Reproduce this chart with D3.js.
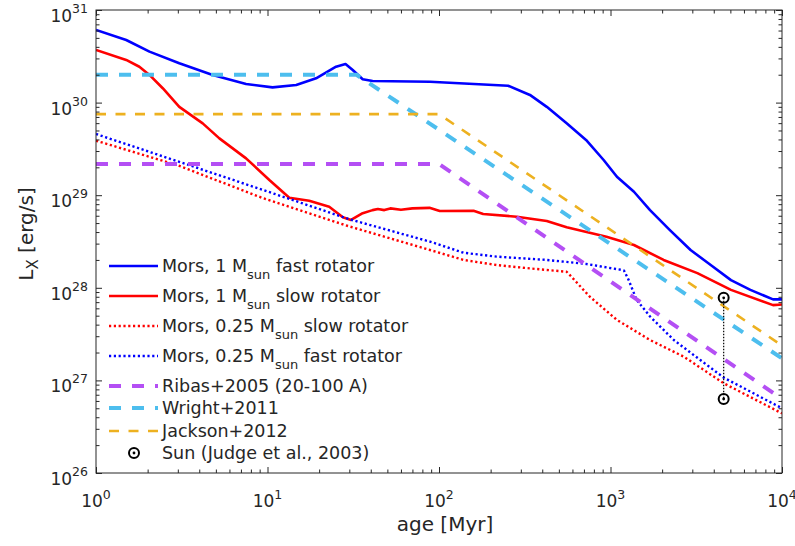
<!DOCTYPE html>
<html>
<head>
<meta charset="utf-8">
<script src="https://cdn.jsdelivr.net/npm/d3@7"></script>
<style>
  body { margin: 0; background: #fff; }
  svg { font-family: 'DejaVu Sans', Verdana, sans-serif; }
</style>
</head>
<body>
<svg></svg>
<script>
// Mors, 1 Msun fast rotator
let ageFast1 = [1, 1.5, 2.05, 3.06, 4.79, 7.5, 10.7, 14.7, 19.2, 25.1, 28.5, 31.4, 35.9, 41, 88.6, 253, 339, 425, 555, 720, 912, 1090, 1370, 1700, 2220, 2930, 3840, 5040, 6540, 8870, 10000]
let lxFast1 = [6.1e30, 4.74e30, 3.55e30, 2.66e30, 1.99e30, 1.59e30, 1.46e30, 1.55e30, 1.83e30, 2.44e30, 2.61e30, 2.25e30, 1.79e30, 1.71e30, 1.68e30, 1.52e30, 1.21e30, 9.0e29, 5.97e29, 3.95e29, 2.4e29, 1.58e29, 1.09e29, 6.9e28, 4.2e28, 2.56e28, 1.76e28, 1.21e28, 9.5e27, 7.5e27, 7.5e27]

// Mors, 1 Msun slow rotator
let ageSlow1 = [1, 1.5, 1.79, 2.05, 2.45, 3.06, 4.19, 5.24, 7.5, 10.25, 13.4, 17.5, 22.9, 27.5, 30.7, 35.9, 41, 44, 48, 52, 60, 70, 88, 101, 159, 181, 284, 425, 555, 947, 1370, 2040, 3210, 5040, 8870, 10000]
let lxSlow1 = [3.7e30, 2.89e30, 2.44e30, 1.99e30, 1.43e30, 9.0e29, 5.97e29, 4.11e29, 2.5e29, 1.46e29, 9.4e28, 8.7e28, 7.5e28, 5.77e28, 5.4e28, 6.4e28, 6.9e28, 7.1e28, 6.9e28, 7.2e28, 6.95e28, 7.2e28, 7.3e28, 6.75e28, 6.8e28, 6.27e28, 5.86e28, 5.26e28, 4.5e28, 3.56e28, 2.9e28, 2.0e28, 1.44e28, 9.5e27, 6.5e27, 6.6e27]

// Mors, 0.25 Msun slow rotator
let ageSlow025 = [1, 3, 9.4, 30, 88.6, 139, 217, 339, 555, 580, 758, 1090, 1700, 2680, 4580, 10000]
let lxSlow025 = [3.88e29, 2.1e29, 9.3e28, 4.6e28, 2.56e28, 2.0e28, 1.76e28, 1.62e28, 1.49e28, 1.37e28, 8.0e27, 4.5e27, 2.73e27, 1.8e27, 9.3e26, 4.4e26]

// Mors, 0.25 Msun fast rotator
let ageFast025 = [1, 3, 9.4, 30, 88.6, 139, 217, 425, 720, 1160, 1200, 1277, 1420, 1700, 2340, 3340, 4580, 10000]
let lxFast025 = [4.58e29, 2.32e29, 1.14e29, 5.5e28, 3.15e28, 2.39e28, 2.17e28, 2.0e28, 1.81e28, 1.56e28, 1.53e28, 1.21e28, 7.4e27, 4.9e27, 2.73e27, 1.66e27, 1.07e27, 5.0e26]

// empirical relations
let ageRibas = [1, 100, 10000]
let lxRibas = [2.17e29, 2.17e29, 6.3e26]
let ageWright = [1, 33, 10000]
let lxWright = [2.0e30, 2.0e30, 1.73e27]
let ageJackson = [1, 100, 10000]
let lxJackson = [7.5e29, 7.5e29, 2.38e27]

// Sun (Judge et al., 2003)
let ageSun = [4570, 4570]
let lxSun = [7.8e27, 6.3e26]

let xTickExp = [0, 1, 2, 3, 4]
let yTickExp = [26, 27, 28, 29, 30, 31]

let legendLabels = [
    ['Mors, 1 M', 'sun', ' fast rotator'],
    ['Mors, 1 M', 'sun', ' slow rotator'],
    ['Mors, 0.25 M', 'sun', ' slow rotator'],
    ['Mors, 0.25 M', 'sun', ' fast rotator'],
    ['Ribas+2005 (20-100 A)', '', ''],
    ['Wright+2011', '', ''],
    ['Jackson+2012', '', ''],
    ['Sun (Judge et al., 2003)', '', '']
]

let width = 795, height = 546
let pLeft = 96, pRight = 782, pTop = 10, pBottom = 473
let ink = '#262626'

let svg = d3.select('svg').attr('width', width).attr('height', height)

let xScale = d3.scaleLog().domain([1, 1e4]).range([pLeft, pRight])
let yScale = d3.scaleLog().domain([1e26, 1e31]).range([pBottom, pTop])

let zip = (xs, ys) => xs.map((x, i) => [x, ys[i]])

let series = [
    { data: zip(ageFast1, lxFast1), color: '#0000ff', w: 2.6, dash: null },
    { data: zip(ageSlow1, lxSlow1), color: '#ff0000', w: 2.6, dash: null },
    { data: zip(ageSlow025, lxSlow025), color: '#ff0000', w: 2.4, dash: '2.2 2.6' },
    { data: zip(ageFast025, lxFast025), color: '#0000ff', w: 2.4, dash: '2.2 2.6' },
    { data: zip(ageRibas, lxRibas), color: '#b44ff4', w: 4, dash: '12 11' },
    { data: zip(ageWright, lxWright), color: '#4dbeee', w: 4, dash: '12 11' },
    { data: zip(ageJackson, lxJackson), color: '#edb120', w: 2.6, dash: '10 9.5' }
]

svg.append('clipPath').attr('id', 'plotclip')
    .append('rect')
    .attr('x', pLeft).attr('y', pTop)
    .attr('width', pRight - pLeft).attr('height', pBottom - pTop)

let plot = svg.append('g').attr('clip-path', 'url(#plotclip)')

let line = d3.line()
    .x((d) => xScale(d[0]))
    .y((d) => yScale(d[1]))

series.forEach((s) => {
    plot.append('path')
        .attr('d', line(s.data))
        .attr('fill', 'none')
        .attr('stroke', s.color)
        .attr('stroke-width', s.w)
        .attr('stroke-linejoin', 'round')
        .attr('stroke-dasharray', s.dash)
})

// Sun: vertical dotted connector and the two markers
let sunPts = zip(ageSun, lxSun)
plot.append('path')
    .attr('d', line(sunPts))
    .attr('fill', 'none')
    .attr('stroke', '#000')
    .attr('stroke-width', 1.2)
    .attr('stroke-dasharray', '1.5 1.5')

let drawSun = (g, cx, cy) => {
    g.append('circle').attr('cx', cx).attr('cy', cy).attr('r', 5)
        .attr('fill', 'none').attr('stroke', '#000').attr('stroke-width', 2)
    g.append('circle').attr('cx', cx).attr('cy', cy).attr('r', 1.4).attr('fill', '#000')
}
sunPts.forEach((d) => drawSun(plot, xScale(d[0]), yScale(d[1])))

// axes: inner ticks on all four sides
let minorOf = (exps) => {
    let out = []
    exps.slice(0, -1).forEach((e) => {
        for (let k = 2; k <= 9; k++) out.push(k * Math.pow(10, e))
    })
    return out
}
let xMajor = xTickExp.map((e) => Math.pow(10, e))
let yMajor = yTickExp.map((e) => Math.pow(10, e))
let xMinor = minorOf(xTickExp)
let yMinor = minorOf(yTickExp)

let addAxis = (axis, ticks, size, tx, ty) => {
    let g = svg.append('g')
        .attr('transform', 'translate(' + tx + ',' + ty + ')')
        .call(axis.tickValues(ticks).tickSize(-size).tickFormat(''))
    g.select('.domain').remove()
    g.selectAll('line').attr('stroke', ink).attr('stroke-width', 1)
}
;[[xMajor, 6], [xMinor, 3.5]].forEach(([t, s]) => {
    addAxis(d3.axisBottom(xScale), t, s, 0, pBottom)
    addAxis(d3.axisTop(xScale), t, s, 0, pTop)
})
;[[yMajor, 6], [yMinor, 3.5]].forEach(([t, s]) => {
    addAxis(d3.axisLeft(yScale), t, s, pLeft, 0)
    addAxis(d3.axisRight(yScale), t, s, pRight, 0)
})

svg.append('rect')
    .attr('x', pLeft).attr('y', pTop)
    .attr('width', pRight - pLeft).attr('height', pBottom - pTop)
    .attr('fill', 'none').attr('stroke', ink).attr('stroke-width', 1)

// tick labels 10^n
xTickExp.forEach((e) => {
    let t = svg.append('text')
        .attr('x', xScale(Math.pow(10, e)))
        .attr('y', pBottom + 34)
        .attr('text-anchor', 'middle')
        .attr('fill', ink)
        .style('font-size', '17px')
    t.append('tspan').text('10')
    t.append('tspan').attr('dy', -8).style('font-size', '12.5px').text(e)
})
yTickExp.forEach((e) => {
    let t = svg.append('text')
        .attr('x', pLeft - 8)
        .attr('y', yScale(Math.pow(10, e)) + 12)
        .attr('text-anchor', 'end')
        .attr('fill', ink)
        .style('font-size', '17px')
    t.append('tspan').text('10')
    t.append('tspan').attr('dy', -9).style('font-size', '12.5px').text(e)
})

// axis titles
svg.append('text')
    .attr('x', 445).attr('y', 531)
    .attr('text-anchor', 'middle')
    .attr('fill', ink)
    .style('font-size', '20px')
    .text('age [Myr]')

let yl = svg.append('text')
    .attr('transform', 'translate(33,234) rotate(-90)')
    .attr('text-anchor', 'middle')
    .attr('fill', ink)
    .style('font-size', '20px')
yl.append('tspan').text('L')
yl.append('tspan').attr('dy', 5).style('font-size', '15px').text('X')
yl.append('tspan').attr('dy', -5).text(' [erg/s]')

// legend
let legendY = [266, 296, 326, 356, 386, 408, 431, 453]
let legend = svg.append('g')
legendLabels.forEach((lab, i) => {
    let y = legendY[i]
    if (i < series.length) {
        let s = series[i]
        legend.append('line')
            .attr('x1', 109).attr('x2', 158)
            .attr('y1', y).attr('y2', y)
            .attr('stroke', s.color)
            .attr('stroke-width', s.w)
            .attr('stroke-dasharray', s.dash)
    } else {
        drawSun(legend, 134, y)
    }
    let t = legend.append('text')
        .attr('x', 162).attr('y', y + 6)
        .attr('fill', ink)
        .style('font-size', '17.5px')
    t.append('tspan').text(lab[0])
    if (lab[1]) {
        t.append('tspan').attr('dy', 7).style('font-size', '13px').text(lab[1])
        t.append('tspan').attr('dy', -7).text(lab[2])
    }
})
</script>
</body>
</html>
